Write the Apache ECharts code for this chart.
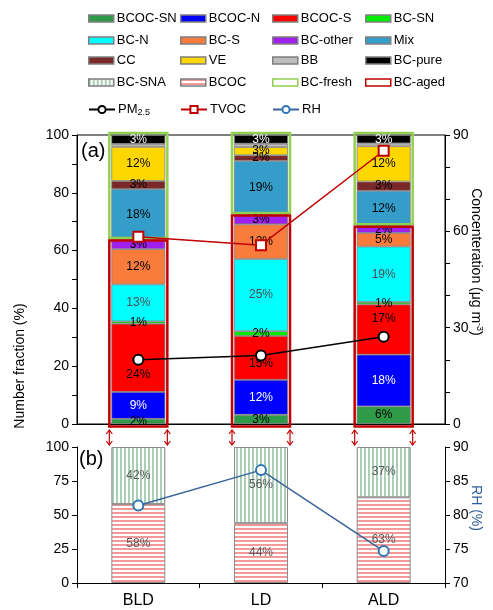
<!DOCTYPE html>
<html><head><meta charset="utf-8">
<script src="https://cdn.jsdelivr.net/npm/echarts@6/dist/echarts.min.js"></script>
<style>html,body{margin:0;padding:0;background:#fff}#c{width:493px;height:610px}</style>
</head><body><div id="c"></div>
<script>
// ---------- data ----------
const categories = ['BLD', 'LD', 'ALD'];
// panel (a) number fractions (%), stacked bottom -> top
const BCOC_SN  = [1.8, 3.2, 6.1];
const BCOC_N   = [9.3, 12.1, 17.9];
const BCOC_S   = [23.6, 15.2, 17.4];
const BC_SN    = [0.8, 1.6, 0.8];
const BC_N     = [12.8, 25.0, 19.2];
const BC_S     = [12.2, 12.0, 4.7];
const BC_other = [3.2, 3.2, 2.3];
const Mix      = [17.6, 18.7, 12.3];
const CC       = [2.8, 2.0, 3.2];
const VE       = [11.8, 2.8, 12.2];
const BB       = [1.0, 1.2, 1.0];
const BC_pure  = [3.1, 3.0, 2.9];
// concentrations (ug m-3)
const PM25 = [20.0, 21.3, 27.2];
const TVOC = [58.3, 55.7, 85.1];
// panel (b)
const BCOC_b = [58, 44, 63];
const BC_SNA = [42, 56, 37];
const RH = [81.4, 86.6, 74.7];
// ticks
const leftTicksA = [0, 20, 40, 60, 80, 100];
const rightTicksA = [0, 30, 60, 90];
const leftTicksB = [0, 25, 50, 75, 100];
const rightTicksB = [70, 75, 80, 85, 90];

// ---------- build ----------
const FONT = 'Liberation Sans, Arial, sans-serif';
const agedArrays = [BCOC_SN, BCOC_N, BCOC_S, BC_SN, BC_N, BC_S, BC_other];
const agedTotal = categories.map((c, i) => agedArrays.reduce((s, a) => s + a[i], 0));
// label nudges (px) so BCOC-S labels avoid the PM2.5 markers, as in the figure
const bcocSLabelShift = [17, 6, -11];

function stripeCanvas(vertical, color) {
  const cv = document.createElement('canvas');
  cv.width = 4; cv.height = 4;
  const ctx = cv.getContext('2d');
  ctx.fillStyle = '#ffffff'; ctx.fillRect(0, 0, 4, 4);
  ctx.fillStyle = color;
  if (vertical) ctx.fillRect(0, 0, 2, 4); else ctx.fillRect(0, 0, 4, 2);
  return cv;
}
const snaPattern = { image: stripeCanvas(true, '#a9cfb6'), repeat: 'repeat' };
const bcocPattern = { image: stripeCanvas(false, '#f29a9a'), repeat: 'repeat' };

const aSeriesDef = [
  ['BCOC-SN', BCOC_SN, '#2f9a47', '#000'],
  ['BCOC-N', BCOC_N, '#0000ff', '#fff'],
  ['BCOC-S', BCOC_S, '#ff0000', '#000'],
  ['BC-SN', BC_SN, '#00ee00', '#000'],
  ['BC-N', BC_N, '#00ffff', '#4d4d4d'],
  ['BC-S', BC_S, '#f97c3c', '#000'],
  ['BC-other', BC_other, '#a020f0', '#000'],
  ['Mix', Mix, '#359dc9', '#000'],
  ['CC', CC, '#7a2828', '#000'],
  ['VE', VE, '#ffd700', '#000'],
  ['BB', BB, '#bdbdbd', null],
  ['BC-pure', BC_pure, '#000000', '#fff']
];

const series = [];
aSeriesDef.forEach(([name, data, color, lc]) => {
  const d = name === 'BCOC-S'
    ? data.map((v, i) => ({ value: v, label: { offset: [0, bcocSLabelShift[i]] } }))
    : data;
  series.push({
    name, type: 'bar', stack: 'a', xAxisIndex: 0, yAxisIndex: 0,
    barWidth: 54, data: d,
    itemStyle: { color, borderColor: '#808080', borderWidth: 0.8 },
    label: {
      show: lc !== null, position: 'inside', color: lc || '#000',
      fontSize: 12, fontFamily: FONT,
      formatter: p => Math.round(p.value) + '%'
    },
    z: 2
  });
});

// outline boxes (BC-fresh / BC-aged) and arrows
series.push({
  name: 'BC-fresh', type: 'custom', xAxisIndex: 0, yAxisIndex: 0, clip: false, z: 3,
  itemStyle: { color: '#92d050' },
  data: categories.map((c, i) => [i, agedTotal[i], 100]),
  renderItem: (params, api) => {
    const i = api.value(0);
    const x = api.coord([i, 0])[0];
    const yb = api.coord([i, api.value(1)])[1];
    const yt = api.coord([i, api.value(2)])[1];
    return { type: 'rect', shape: { x: x - 29, y: yt - 2, width: 58, height: (yb - 2) - (yt - 2) },
      style: { fill: 'none', stroke: '#92d050', lineWidth: 2.5 } };
  }
});
series.push({
  name: 'BC-aged', type: 'custom', xAxisIndex: 0, yAxisIndex: 0, clip: false, z: 3,
  itemStyle: { color: '#c00000' },
  data: categories.map((c, i) => [i, agedTotal[i]]),
  renderItem: (params, api) => {
    const i = api.value(0);
    const p0 = api.coord([i, 0]);
    const x = p0[0], y0 = p0[1];
    const yb = api.coord([i, api.value(1)])[1];
    const children = [{ type: 'rect', shape: { x: x - 29, y: yb + 0.5, width: 58, height: (y0 + 2.5) - (yb + 0.5) },
      style: { fill: 'none', stroke: '#c00000', lineWidth: 2.5 } }];
    [x - 29, x + 29].forEach(ax => {
      const ya = y0 + 6, yz = y0 + 21;
      children.push({ type: 'line', shape: { x1: ax, y1: ya, x2: ax, y2: yz }, style: { stroke: '#c00000', lineWidth: 1.2 } });
      children.push({ type: 'polyline', shape: { points: [[ax - 3, ya + 4], [ax, ya], [ax + 3, ya + 4]] }, style: { stroke: '#c00000', fill: 'none', lineWidth: 1.2 } });
      children.push({ type: 'polyline', shape: { points: [[ax - 3, yz - 4], [ax, yz], [ax + 3, yz - 4]] }, style: { stroke: '#c00000', fill: 'none', lineWidth: 1.2 } });
    });
    return { type: 'group', children };
  }
});

series.push({
  name: 'PM2.5', type: 'line', xAxisIndex: 0, yAxisIndex: 1, data: PM25, z: 5,
  symbol: 'circle', symbolSize: 10,
  lineStyle: { color: '#000', width: 1.5 },
  itemStyle: { color: '#fff', borderColor: '#000', borderWidth: 2 }
});
series.push({
  name: 'TVOC', type: 'line', xAxisIndex: 0, yAxisIndex: 1, data: TVOC, z: 5,
  symbol: 'rect', symbolSize: 10,
  lineStyle: { color: '#c00000', width: 1.5 },
  itemStyle: { color: '#fff', borderColor: '#c00000', borderWidth: 2 }
});

// panel b
series.push({
  name: 'BCOC', type: 'bar', stack: 'b', xAxisIndex: 1, yAxisIndex: 2, barWidth: 54, data: BCOC_b,
  itemStyle: { color: bcocPattern, borderColor: '#8c8c8c', borderWidth: 1 },
  label: { show: true, position: 'inside', color: '#595959', fontSize: 12, fontFamily: FONT, formatter: p => p.value + '%' }
});
series.push({
  name: 'BC-SNA', type: 'bar', stack: 'b', xAxisIndex: 1, yAxisIndex: 2, barWidth: 54, data: BC_SNA,
  itemStyle: { color: snaPattern, borderColor: '#8c8c8c', borderWidth: 1 },
  label: { show: true, position: 'inside', color: '#595959', fontSize: 12, fontFamily: FONT, formatter: p => p.value + '%' }
});
series.push({
  name: 'RH', type: 'line', xAxisIndex: 1, yAxisIndex: 3, data: RH, z: 5,
  symbol: 'circle', symbolSize: 10,
  lineStyle: { color: '#3a6499', width: 1.5 },
  itemStyle: { color: '#fff', borderColor: '#2e75b6', borderWidth: 2 }
});

// legends: one per entry placed in a 4-column layout
const legendRows = [
  ['BCOC-SN', 'BCOC-N', 'BCOC-S', 'BC-SN'],
  ['BC-N', 'BC-S', 'BC-other', 'Mix'],
  ['CC', 'VE', 'BB', 'BC-pure'],
  ['BC-SNA', 'BCOC', 'BC-fresh', 'BC-aged'],
  ['PM2.5', 'TVOC', 'RH']
];
const colX = [88, 180, 272, 365];
const rowY = [20, 42, 62, 84, 111];
const legends = [];
legendRows.forEach((row, r) => row.forEach((name, c) => {
  const isLine = ['PM2.5', 'TVOC', 'RH'].includes(name);
  let item = { name };
  if (!isLine) {
    item.icon = 'rect';
    if (name === 'BC-fresh') item.itemStyle = { color: '#fff', borderColor: '#92d050', borderWidth: 1.5 };
    else if (name === 'BC-aged') item.itemStyle = { color: '#fff', borderColor: '#c00000', borderWidth: 1.5 };
    else item.itemStyle = { borderColor: '#7f7f7f', borderWidth: 1.5 };
  }
  legends.push({
    left: colX[c], top: rowY[r] - 8, padding: 0, itemGap: 0,
    itemWidth: isLine ? 26 : 25, itemHeight: isLine ? 9 : 7,
    selectedMode: false, data: [item],
    textStyle: { fontFamily: FONT, fontSize: 13, color: '#000', padding: [0, 0, 0, -2],
      rich: { b: { fontFamily: FONT, fontSize: 13, color: '#000' }, s: { fontFamily: FONT, fontSize: 9, color: '#000', padding: [6, 0, 0, 0] } } },
    formatter: n => n === 'PM2.5' ? '{b|PM}{s|2.5}' : n
  });
}));

const axisLabelStyle = { fontFamily: FONT, fontSize: 14, color: '#000' };
const lineBlack = { show: true, lineStyle: { color: '#000', width: 1 } };

const option = {
  animation: false,
  textStyle: { fontFamily: FONT },
  legend: legends,
  grid: [
    { left: 77, right: 48, top: 135, height: 289, show: true, borderColor: '#000', borderWidth: 1, backgroundColor: 'transparent' },
    { left: 77, right: 48, top: 447, height: 136 }
  ],
  xAxis: [
    { type: 'category', gridIndex: 0, data: categories, axisLine: lineBlack, axisTick: { show: false }, axisLabel: { show: false } },
    { type: 'category', gridIndex: 1, data: categories, axisLine: lineBlack,
      axisTick: { show: true, length: 5, lineStyle: { color: '#000' } },
      axisLabel: { fontFamily: FONT, fontSize: 16, color: '#000', margin: 10 } }
  ],
  yAxis: [
    { type: 'value', gridIndex: 0, min: leftTicksA[0], max: leftTicksA[leftTicksA.length - 1], interval: 20,
      axisLine: lineBlack, axisTick: { show: true, length: 5, lineStyle: { color: '#000' } },
      minorTick: { show: true, splitNumber: 2, length: 5, lineStyle: { color: '#000' } },
      splitLine: { show: false }, axisLabel: Object.assign({ margin: 8 }, axisLabelStyle) },
    { type: 'value', gridIndex: 0, position: 'right', min: rightTicksA[0], max: rightTicksA[rightTicksA.length - 1], interval: 30,
      axisLine: lineBlack, axisTick: { show: true, length: 5, lineStyle: { color: '#000' } },
      minorTick: { show: true, splitNumber: 3, length: 5, lineStyle: { color: '#000' } },
      splitLine: { show: false }, axisLabel: Object.assign({ margin: 8 }, axisLabelStyle) },
    { type: 'value', gridIndex: 1, min: leftTicksB[0], max: leftTicksB[leftTicksB.length - 1], interval: 25,
      axisLine: lineBlack, axisTick: { show: true, length: 5, lineStyle: { color: '#000' } },
      splitLine: { show: false }, axisLabel: Object.assign({ margin: 8 }, axisLabelStyle) },
    { type: 'value', gridIndex: 1, position: 'right', min: rightTicksB[0], max: rightTicksB[rightTicksB.length - 1], interval: 5,
      axisLine: lineBlack, axisTick: { show: true, length: 5, lineStyle: { color: '#000' } },
      splitLine: { show: false }, axisLabel: Object.assign({ margin: 8 }, axisLabelStyle) }
  ],
  graphic: [
    { type: 'text', left: 81, top: 141, style: { text: '(a)', fontSize: 20, fontFamily: FONT, fill: '#000' } },
    { type: 'text', left: 79, top: 449, style: { text: '(b)', fontSize: 20, fontFamily: FONT, fill: '#000' } },
    { type: 'text', x: 20, y: 366, rotation: Math.PI / 2,
      style: { text: 'Number fraction (%)', fontSize: 14, fontFamily: FONT, fill: '#000', align: 'center', verticalAlign: 'middle', textAlign: 'center', textVerticalAlign: 'middle' } },
    { type: 'text', x: 476, y: 262, rotation: -Math.PI / 2,
      style: { text: 'Concenteration (μg m{sup|-3})', fontSize: 14, fontFamily: FONT, fill: '#000',
        align: 'center', verticalAlign: 'middle', textAlign: 'center', textVerticalAlign: 'middle',
        rich: { sup: { fontSize: 9, fontFamily: FONT, fill: '#000', verticalAlign: 'top', padding: [0, 0, 6, 0] } } } },
    { type: 'text', x: 476, y: 508, rotation: -Math.PI / 2,
      style: { text: 'RH (%)', fontSize: 14, fontFamily: FONT, fill: '#2e5c9a', align: 'center', verticalAlign: 'middle', textAlign: 'center', textVerticalAlign: 'middle' } }
  ],
  series
};

const chart = echarts.init(document.getElementById('c'), null, { renderer: 'canvas' });
chart.setOption(option);
</script>
</body></html>
